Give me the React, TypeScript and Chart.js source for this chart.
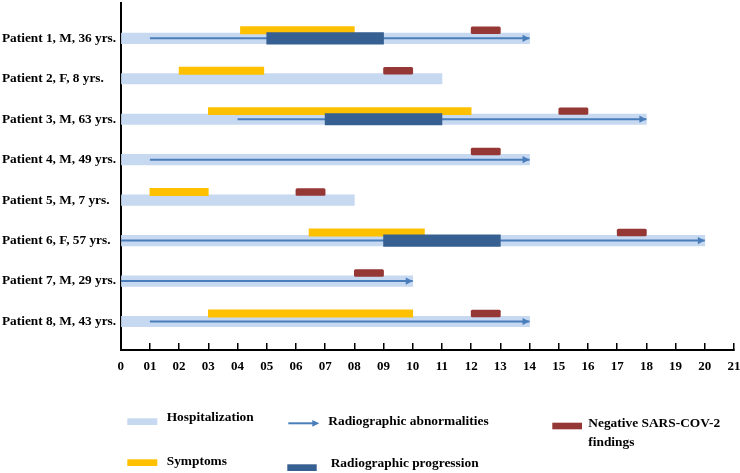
import React, { useEffect, useRef } from 'react';
import { Chart, registerables } from 'chart.js';

Chart.register(...registerables);

// ---------- data ----------
const patients = [
  'Patient 1, M, 36 yrs.',
  'Patient 2, F, 8 yrs.',
  'Patient 3, M, 63 yrs.',
  'Patient 4, M, 49 yrs.',
  'Patient 5, M, 7 yrs.',
  'Patient 6, F, 57 yrs.',
  'Patient 7, M, 29 yrs.',
  'Patient 8, M, 43 yrs.',
];

const xTickLabels = [
  '0', '01', '02', '03', '04', '05', '06', '07', '08', '09', '10',
  '11', '12', '13', '14', '15', '16', '17', '18', '19', '20', '21',
];

type Span = [number, number] | null;

const hospitalization: Span[] = [[0, 14], [0, 11], [0, 18], [0, 14], [0, 8], [0, 20], [0, 10], [0, 14]];
const symptoms: Span[] = [[4.1, 8], [2, 4.9], [3, 12], null, [1, 3], [6.45, 10.4], null, [3, 10]];
const radiographicAbnormalities: Span[] = [[1, 14], null, [4, 18], [1, 14], null, [0, 20], [0, 10], [1, 14]];
const radiographicProgression: Span[] = [[5, 9], null, [7, 11], null, null, [9, 13], null, null];
const negativeFindings: Span[] = [[12, 13], [9, 10], [15, 16], [12, 13], [6, 7], [17, 18], [8, 9], [12, 13]];

const seriesLabels = {
  hosp: 'Hospitalization',
  sym: 'Symptoms',
  abn: 'Radiographic abnormalities',
  prog: 'Radiographic progression',
  neg: ['Negative SARS-COV-2', 'findings'],
};

// ---------- styles ----------
const C_HOSP = '#C6D9F1';
const C_SYM = '#FFC000';
const C_PROG = '#376092';
const C_NEG = '#953735';
const C_ARROW = '#4A7EBB';
const FONT = '"Liberation Serif", "Times New Roman", serif';

// y scale geometry (rows spaced evenly, slightly offset bands)
const Y_MIN = -0.8725;
const Y_MAX = 7.704;
const BAND_SHIFT = 0.2; // symptom / negative bands sit above the row centre

const toBars = (arr: Span[]) =>
  arr.map((r, i) => (r ? { x: r, y: i } : null)).filter((d) => d !== null);

const arrowPoints = radiographicAbnormalities.flatMap((r, i) =>
  r ? [{ x: r[0], y: i }, { x: r[1], y: i }, { x: null, y: null }] : []
);

function arrowHead(ctx: CanvasRenderingContext2D, x: number, y: number, len: number, half: number) {
  ctx.beginPath();
  ctx.moveTo(x, y);
  ctx.lineTo(x - len, y - half);
  ctx.lineTo(x - len, y + half);
  ctx.closePath();
  ctx.fill();
}

const overlayPlugin = {
  id: 'overlay',
  afterDatasetsDraw(chart: any) {
    const ctx: CanvasRenderingContext2D = chart.ctx;
    const idx = chart.data.datasets.findIndex((d: any) => d.label === seriesLabels.abn);
    const meta = chart.getDatasetMeta(idx);
    ctx.save();
    ctx.fillStyle = C_ARROW;
    meta.data.forEach((pt: any, i: number) => {
      if (i % 3 === 1 && !pt.skip) arrowHead(ctx, pt.x, pt.y, 7, 3.6);
    });
    ctx.restore();
  },
  afterDraw(chart: any) {
    const ctx: CanvasRenderingContext2D = chart.ctx;
    ctx.save();
    ctx.font = `bold 13.4px ${FONT}`;
    ctx.textBaseline = 'middle';
    ctx.textAlign = 'left';
    const rect = (x: number, y: number, w: number, h: number, c: string) => {
      ctx.fillStyle = c;
      ctx.fillRect(x, y, w, h);
    };
    const text = (s: string, x: number, y: number) => {
      ctx.fillStyle = '#000';
      ctx.fillText(s, x, y);
    };
    rect(127.3, 418.3, 30, 6.7, C_HOSP);
    text(seriesLabels.hosp, 166.7, 417.5);
    rect(127.3, 459.3, 30, 6.7, C_SYM);
    text(seriesLabels.sym, 166.7, 461.5);
    ctx.strokeStyle = C_ARROW;
    ctx.lineWidth = 2;
    ctx.beginPath();
    ctx.moveTo(288.3, 423.3);
    ctx.lineTo(314, 423.3);
    ctx.stroke();
    ctx.fillStyle = C_ARROW;
    arrowHead(ctx, 319.3, 423.3, 7, 3.4);
    text(seriesLabels.abn, 328.3, 422);
    rect(287.3, 464.3, 29.4, 6.7, C_PROG);
    text(seriesLabels.prog, 330.7, 463.5);
    rect(552.3, 422.7, 29.7, 6.6, C_NEG);
    text(seriesLabels.neg[0], 588.3, 423.5);
    text(seriesLabels.neg[1], 588.3, 442.7);
    ctx.restore();
  },
};

export default function App() {
  const ref = useRef<HTMLCanvasElement>(null);

  useEffect(() => {
    document.body.style.margin = '0';
    const canvas = ref.current!;
    const tickFont = { family: FONT, weight: 'bold' as const, size: 13 };

    const chart = new Chart(canvas, {
      type: 'bar',
      data: {
        datasets: [
          {
            type: 'bar',
            label: seriesLabels.hosp,
            indexAxis: 'y',
            xAxisID: 'x',
            yAxisID: 'y',
            data: toBars(hospitalization) as any,
            backgroundColor: C_HOSP,
            barThickness: 10.5,
            grouped: false,
            order: 5,
          },
          {
            type: 'line',
            label: seriesLabels.abn,
            xAxisID: 'x',
            yAxisID: 'y',
            data: arrowPoints as any,
            borderColor: C_ARROW,
            borderWidth: 2,
            pointRadius: 0,
            fill: false,
            spanGaps: false,
            tension: 0,
            order: 4,
          },
          {
            type: 'bar',
            label: seriesLabels.sym,
            indexAxis: 'y',
            xAxisID: 'x',
            yAxisID: 'yBand',
            data: toBars(symptoms) as any,
            backgroundColor: C_SYM,
            barThickness: 7.3,
            grouped: false,
            order: 3,
          },
          {
            type: 'bar',
            label: seriesLabels.prog,
            indexAxis: 'y',
            xAxisID: 'x',
            yAxisID: 'y',
            data: toBars(radiographicProgression) as any,
            backgroundColor: C_PROG,
            barThickness: 11.5,
            grouped: false,
            order: 2,
          },
          {
            type: 'bar',
            label: seriesLabels.neg.join(' '),
            indexAxis: 'y',
            xAxisID: 'x',
            yAxisID: 'yBand',
            data: toBars(negativeFindings) as any,
            backgroundColor: C_NEG,
            barThickness: 6.8,
            borderRadius: 1.5,
            borderSkipped: false,
            grouped: false,
            order: 1,
          },
        ] as any,
      },
      options: {
        responsive: false,
        animation: false,
        events: [],
        layout: { padding: { left: 2, top: 3, right: 0, bottom: 93 } },
        plugins: { legend: { display: false }, tooltip: { enabled: false } },
        scales: {
          x: {
            type: 'linear',
            position: 'bottom',
            offset: false,
            min: 0,
            max: 21,
            ticks: {
              stepSize: 1,
              autoSkip: false,
              maxRotation: 0,
              padding: 16,
              color: '#000',
              font: tickFont,
              callback: (v: any) => xTickLabels[v as number] ?? '',
            },
            grid: {
              offset: false,
              drawOnChartArea: false,
              drawTicks: true,
              tickLength: -7,
              color: '#000',
              lineWidth: 1.5,
            },
            border: { display: true, color: '#000', width: 2 },
            afterFit: (axis: any) => {
              axis.height = 30;
              axis.paddingLeft = 0;
              axis.paddingRight = 6;
            },
          },
          y: {
            type: 'linear',
            position: 'left',
            offset: false,
            reverse: true,
            min: Y_MIN,
            max: Y_MAX,
            afterBuildTicks: (axis: any) => {
              axis.ticks = patients.map((_, i) => ({ value: i }));
            },
            ticks: {
              autoSkip: false,
              crossAlign: 'far',
              color: '#000',
              font: { family: FONT, weight: 'bold', size: 13.3 },
              callback: (v: any) => patients[v as number] ?? '',
            },
            grid: { display: false, offset: false },
            border: { display: true, color: '#000', width: 2 },
            afterFit: (axis: any) => {
              axis.width = 118.7;
              axis.paddingTop = 0;
              axis.paddingBottom = 0;
            },
          },
          yBand: {
            type: 'linear',
            axis: 'y',
            position: 'left',
            display: false,
            offset: false,
            reverse: true,
            min: Y_MIN + BAND_SHIFT,
            max: Y_MAX + BAND_SHIFT,
            grid: { offset: false },
            afterFit: (axis: any) => {
              axis.width = 0;
              axis.paddingTop = 0;
              axis.paddingBottom = 0;
            },
          },
        } as any,
      },
      plugins: [overlayPlugin],
    });

    return () => chart.destroy();
  }, []);

  return (
    <div style={{ width: 740, height: 473 }}>
      <canvas ref={ref} width={740} height={473} style={{ display: 'block' }} />
    </div>
  );
}
